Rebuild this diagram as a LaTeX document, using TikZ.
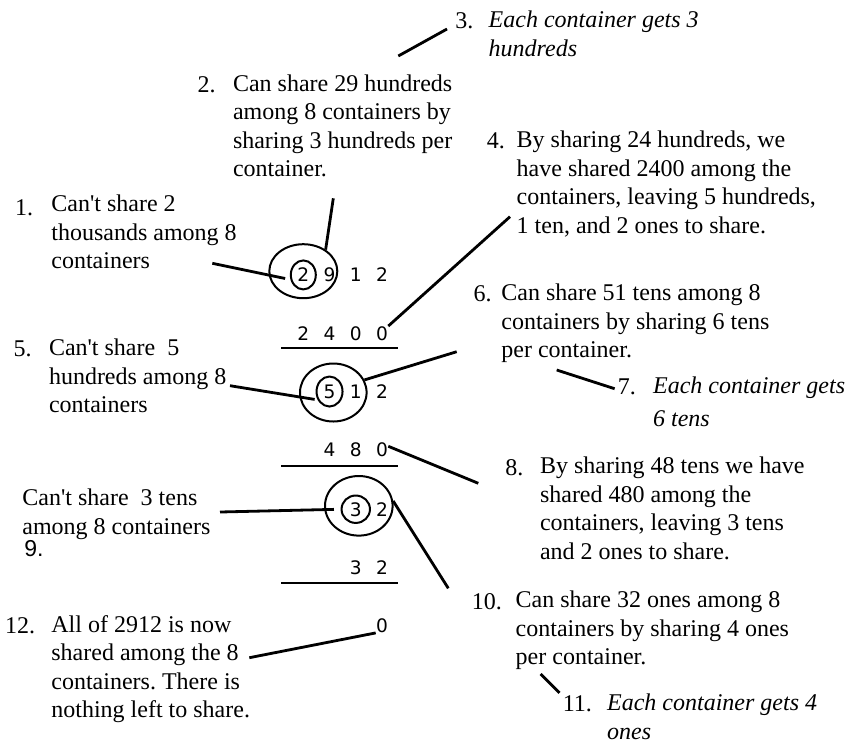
\documentclass[tikz,border=0pt]{standalone}
\usepackage{fontspec}
\setmainfont{Liberation Serif}
\newfontfamily\digitfamily{DejaVu Sans}
\newfontfamily\ninefamily{Liberation Sans}
\usepackage{tikz}
\usetikzlibrary{positioning, shapes.geometric}
\frenchspacing

\newcommand{\notesize}{\fontsize{12}{14.25}\selectfont}
\newcommand{\digsize}{\digitfamily\fontsize{9.3}{11}\selectfont}

\tikzset{
  note/.style={font=\notesize, align=left, inner sep=0pt, anchor=north west},
  inote/.style={note, font=\notesize\itshape},
  num/.style={font=\notesize, inner sep=0pt, yshift=-1pt},
  sansnum/.style={font=\ninefamily\fontsize{11.5}{13}\selectfont, inner sep=0pt},
  dig/.style={font=\digsize, inner sep=0pt, text height=6.78pt, text depth=0pt, anchor=base},
  ring/.style={draw, ellipse, line width=1pt, inner sep=0pt},
  lead/.style={line width=1.4pt},
  rule/.style={line width=1pt},
}

\begin{document}
\begin{tikzpicture}[x=0.5pt, y=-0.5pt]
  \useasboundingbox (0,0) rectangle (854,744);

  %% The division: 2912 shared among 8
  \foreach \d [count=\i] in {2,9,1,2}
    \node[dig] (a\i) at ({303.3+26.23*(\i-1)},281.7) {\d};
  \foreach \d [count=\i] in {2,4,0,0}
    \node[dig] (b\i) at ({303.3+26.23*(\i-1)},340) {\d};
  \draw[rule] (281,348.3) -- (398.3,348.3);
  \foreach \d [count=\i from 2] in {5,1,2}
    \node[dig] (c\i) at ({303.3+26.23*(\i-1)},398.3) {\d};
  \foreach \d [count=\i from 2] in {4,8,0}
    \node[dig] (d\i) at ({303.3+26.23*(\i-1)},456.7) {\d};
  \draw[rule] (281,465.7) -- (398.3,465.7);
  \foreach \d [count=\i from 3] in {3,2}
    \node[dig] (e\i) at ({303.3+26.23*(\i-1)},516) {\d};
  \foreach \d [count=\i from 3] in {3,2}
    \node[dig] (f\i) at ({303.3+26.23*(\i-1)},574) {\d};
  \draw[rule] (281,583.3) -- (398.3,583.3);
  \node[dig] (g4) at (382,632.5) {0};

  % rings round the leading digits
  \node[ring, minimum width=34pt, minimum height=27pt] (big1) at (303.3,271.2) {};
  \node[ring, minimum width=12.5pt, minimum height=14.5pt] (sm1) at (a1) {};
  \node[ring, minimum width=33.3pt, minimum height=29pt] (big2) at (333.3,392.5) {};
  \node[ring, minimum width=13pt, minimum height=15pt] (sm2) at (c2) {};
  \node[ring, minimum width=33.8pt, minimum height=29.8pt] (big3) at (358.8,505.8) {};
  \node[ring, minimum width=14.2pt, minimum height=13.7pt] (sm3) at (e3) {};

  %% Notes
  \node[note] (t1) at (51,194.7) {Can\textquotesingle t share 2\\thousands among 8\\containers};
  \node[num, left=8.7pt of t1.north west, anchor=north east, yshift=-1.5pt] (n1) {1.};

  \node[note] (t2) at (232.6,74.4) {Can share 29 hundreds\\among 8 containers by\\sharing 3 hundreds per\\container.};
  \node[num, left=8.3pt of t2.north west, anchor=north east] (n2) {2.};

  \node[inote] (t3) at (488.3,10.7) {Each container gets 3\\hundreds};
  \node[num, left=7.3pt of t3.north west, anchor=north east] (n3) {3.};

  \node[note] (t4) at (516.3,130.7) {By sharing 24 hundreds, we\\have shared 2400 among the\\containers, leaving 5 hundreds,\\1 ten, and 2 ones to share.};
  \node[num, left=5.5pt of t4.north west, anchor=north east] (n4) {4.};

  \node[note] (t5) at (48.6,338.7) {Can\textquotesingle t share\ \ 5\\hundreds among 8\\containers};
  \node[num, left=8.3pt of t5.north west, anchor=north east] (n5) {5.};

  \node[note] (t6) at (501,283.7) {Can share 51 tens among 8\\containers by sharing 6 tens\\per container.};
  \node[num, left=4.5pt of t6.north west, anchor=north east] (n6) {6.};

  \node[inote, font={\fontsize{12}{16.25}\selectfont\itshape}] (t7) at (652.7,376.7) {Each container gets\\6 tens};
  \node[num, left=8.2pt of t7.north west, anchor=north east] (n7) {7.};

  \node[note] (t8) at (539.6,456.7) {By sharing 48 tens we have\\shared 480 among the\\containers, leaving 3 tens\\and 2 ones to share.};
  \node[num, left=7.95pt of t8.north west, anchor=north east] (n8) {8.};

  \node[note] (t9) at (22,488.7) {Can\textquotesingle t share\ \ 3 tens\\among 8 containers};
  \node[sansnum, below=0pt of t9.south west, anchor=north west, xshift=1pt] (n9) {9.};

  \node[note] (t10) at (515.3,590.7) {Can share 32 ones among 8\\containers by sharing 4 ones\\per container.};
  \node[num, left=6.5pt of t10.north west, anchor=north east] (n10) {10.};

  \node[inote] (t11) at (606.7,693.7) {Each container gets 4\\ones};
  \node[num, left=7.2pt of t11.north west, anchor=north east] (n11) {11.};

  \node[note] (t12) at (51,614.7) {All of 2912 is now\\shared among the 8\\containers. There is\\nothing left to share.};
  \node[num, left=7.7pt of t12.north west, anchor=north east] (n12) {12.};

  %% Pointers
  \coordinate (q1) at (212.3,263.3);
  \coordinate (q2) at (333.3,198.3);
  \coordinate (q3) at (398.3,56);
  \coordinate (q4) at (510,216.7);
  \coordinate (q5) at (230,385.7);
  \coordinate (q6) at (456.7,351.7);
  \coordinate (q7) at (556.7,370);
  \coordinate (q8) at (478.3,483.3);
  \coordinate (q9) at (220,512);
  \coordinate (q10) at (448.3,588.3);
  \coordinate (q11) at (540.7,674);
  \coordinate (q12) at (249.3,657.7);

  \draw[lead, shorten >=2.7pt] (q1) -- (sm1.200);
  \draw[lead] (q2) -- (big1.44);
  \draw[lead, shorten >=4.5pt] (q3) -- (n3.200);
  \draw[lead] (b4.north east) -- (q4);
  \draw[lead, shorten >=1.5pt] (q5) -- (sm2.215);
  \draw[lead] (big2.22) -- (q6);
  \draw[lead, shorten >=1.5pt] (q7) -- (n7.195);
  \draw[lead] (d4.30) -- (q8);
  \draw[lead, shorten >=3.3pt] (q9) -- (sm3.west);
  \draw[lead] (big3.8) -- (q10);
  \draw[lead, shorten >=2pt] (q11) -- (n11.north west);
  \draw[lead] (g4.south west) -- (q12);

\end{tikzpicture}
\end{document}
